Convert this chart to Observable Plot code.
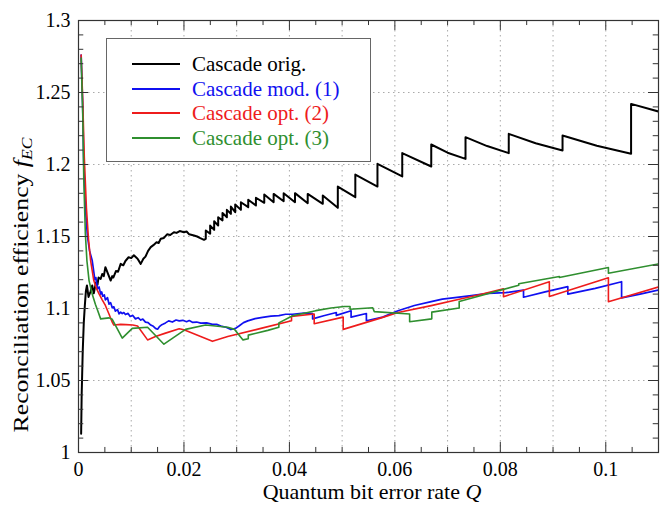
<!DOCTYPE html>
<html>
<head>
<meta charset="utf-8">
<script src="https://cdn.jsdelivr.net/npm/d3@7"></script>
<script src="https://cdn.jsdelivr.net/npm/@observablehq/plot@0.6"></script>
<style>
  html, body { margin: 0; padding: 0; background: #fff; }
  #chart { width: 671px; height: 505px; }
  #chart svg text, #chart svg tspan { font-family: "Liberation Serif", "Times New Roman", serif !important; }
</style>
</head>
<body>
<div id="chart"></div>
<script>
// ---------- data ----------
const seriesNames = ["Cascade orig.", "Cascade mod. (1)", "Cascade opt. (2)", "Cascade opt. (3)"];
const seriesColors = ["#000000", "#1010f0", "#ee1c1c", "#2f8f2f"];

const xTicks = [0, 0.02, 0.04, 0.06, 0.08, 0.1];
const xTickLabels = ["0", "0.02", "0.04", "0.06", "0.08", "0.1"];
const yTicks = [1, 1.05, 1.1, 1.15, 1.2, 1.25, 1.3];
const yTickLabels = ["1", "1.05", "1.1", "1.15", "1.2", "1.25", "1.3"];
const xGridLines = [0.01, 0.02, 0.03, 0.04, 0.05, 0.06, 0.07, 0.08, 0.09, 0.1];
const yGridLines = [1.05, 1.1, 1.15, 1.2, 1.25];

// Cascade orig. [Q, f_EC]
const cascadeOrig = [
  [0.0005,1.013],[0.0006,1.040],[0.0008,1.070],[0.0010,1.090],[0.0012,1.102],[0.0014,1.112],
  [0.0016,1.116],[0.0019,1.108],[0.0023,1.112],[0.0026,1.116],[0.0029,1.1105],[0.0033,1.118],
  [0.0036,1.1165],[0.0038,1.1215],[0.0042,1.1205],[0.0045,1.124],[0.0048,1.1225],[0.0051,1.1287],
  [0.0056,1.124],[0.0061,1.1194],[0.0064,1.1225],[0.0066,1.1215],[0.0071,1.126],[0.0075,1.1255],
  [0.0080,1.131],[0.0085,1.1300],[0.0089,1.133],[0.0095,1.1356],[0.0100,1.1350],[0.0105,1.137],
  [0.0112,1.1345],[0.0118,1.131],[0.0123,1.1345],[0.0127,1.136],[0.0132,1.1400],[0.0137,1.1426],
  [0.0142,1.1440],[0.0148,1.146],[0.0152,1.1455],[0.0156,1.1484],[0.0162,1.1490],[0.0168,1.1515],
  [0.0174,1.1510],[0.0181,1.153],[0.0186,1.1525],[0.0192,1.1538],[0.0200,1.1530],[0.0205,1.1535],
  [0.0210,1.1515],[0.0219,1.1507],[0.0225,1.1500],[0.0230,1.1490],[0.0238,1.1477],
  [0.02414,1.1484],[0.02414,1.1542],[0.02497,1.1519],[0.02497,1.1576],[0.02573,1.1546],[0.02573,1.1606],
  [0.02649,1.1576],[0.02649,1.1634],[0.02731,1.1611],[0.02731,1.1664],[0.02814,1.1634],[0.02814,1.1685],
  [0.0289,1.1657],[0.0289,1.1708],[0.02972,1.1669],[0.02972,1.1722],[0.0308,1.1685],[0.0308,1.1738],
  [0.03219,1.1704],[0.03219,1.1755],[0.03365,1.1715],[0.03365,1.1769],[0.03523,1.1734],[0.03523,1.1792],
  [0.03701,1.1738],[0.03701,1.1796],[0.03891,1.1745],[0.03891,1.1801],[0.04106,1.1738],[0.04106,1.1801],
  [0.04347,1.1731],[0.04347,1.1796],[0.04633,1.1727],[0.04633,1.1785],[0.04918,1.1699],[0.04918,1.1847],
  [0.0525,1.1773],[0.0525,1.1930],[0.0567,1.1847],[0.0567,1.2005],[0.0614,1.1917],[0.0614,1.2079],
  [0.0669,1.1986],[0.0669,1.2139],[0.0700,1.2082],[0.0734,1.2039],[0.0734,1.2190],[0.0775,1.2128],
  [0.0816,1.2079],[0.0816,1.2213],[0.0867,1.2148],[0.0918,1.2097],[0.0918,1.2201],[0.0983,1.2130],
  [0.1048,1.2074],[0.1048,1.2421],[0.1105,1.2363]
];

// Cascade mod. (1)
const cascadeMod1 = [
  [0.0005,1.276],[0.0008,1.240],[0.0010,1.200],[0.0013,1.170],[0.0017,1.150],[0.0021,1.140],
  [0.0026,1.1333],[0.0028,1.1280],[0.0031,1.1200],[0.0033,1.1215],[0.0036,1.1135],[0.0039,1.1150],
  [0.0042,1.1100],[0.0044,1.1115],[0.0046,1.1085],[0.0049,1.1095],[0.0051,1.1060],[0.0055,1.1075],
  [0.0058,1.1030],[0.0061,1.1040],[0.0064,1.1005],[0.0067,1.1012],[0.0070,1.0982],[0.0074,1.0992],
  [0.0077,1.0963],[0.0080,1.0975],[0.0083,1.0965],[0.0086,1.0972],[0.0089,1.0958],[0.0094,1.0966],
  [0.0098,1.0945],[0.0103,1.0952],[0.0108,1.0928],[0.0113,1.0936],[0.0118,1.0920],[0.0122,1.0926],
  [0.0127,1.0905],[0.0132,1.0902],[0.0137,1.0885],[0.0142,1.0876],[0.0146,1.0862],[0.0150,1.0856],
  [0.0154,1.0876],[0.0157,1.0885],[0.0161,1.0892],[0.0165,1.0900],[0.0171,1.0914],[0.0178,1.0906],
  [0.0185,1.0920],[0.0191,1.0914],[0.0198,1.0918],[0.0205,1.0908],[0.0210,1.0916],[0.0216,1.0904],
  [0.0224,1.0906],[0.0232,1.0898],[0.0243,1.0900],[0.0254,1.0890],[0.0262,1.0890],[0.0270,1.0878],
  [0.0280,1.0870],[0.0289,1.0854],[0.0298,1.0862],[0.0305,1.0880],[0.0313,1.0902],[0.0321,1.0914],
  [0.0335,1.0930],[0.0349,1.0938],[0.0365,1.0947],[0.0380,1.0950],[0.0393,1.0960],[0.0406,1.0960],
  [0.0428,1.0968],[0.0444,1.0965],[0.0444,1.0928],[0.0465,1.0950],[0.0489,1.0972],[0.0489,1.0952],
  [0.0517,1.0984],[0.0517,1.0940],[0.0546,1.0965],[0.0546,1.0915],[0.0577,1.0940],[0.0606,1.0984],
  [0.0637,1.1021],[0.0669,1.1048],[0.0690,1.1065],[0.0714,1.1076],[0.0745,1.1090],[0.0777,1.1105],
  [0.0810,1.1110],[0.0844,1.1128],[0.0844,1.1078],[0.0885,1.1115],[0.0928,1.1152],[0.0928,1.1100],
  [0.0980,1.1140],[0.1030,1.1186],[0.1030,1.1074],[0.1065,1.1100],[0.1103,1.1130]
];

// Cascade opt. (2)
const cascadeOpt2 = [
  [0.0005,1.276],[0.0008,1.245],[0.0011,1.205],[0.0015,1.170],[0.0019,1.148],[0.0023,1.1333],
  [0.0029,1.1194],[0.0034,1.1140],[0.0039,1.1102],[0.0045,1.1060],[0.0051,1.1021],[0.0058,1.0960],
  [0.0064,1.0905],[0.0067,1.0885],[0.0080,1.0890],[0.0090,1.0888],[0.0103,1.0885],[0.0112,1.0878],
  [0.0131,1.0782],[0.0146,1.0805],[0.0165,1.0829],[0.0191,1.0859],[0.0200,1.0852],[0.0254,1.0772],
  [0.0283,1.0805],[0.0346,1.0862],[0.0404,1.0915],[0.0404,1.0945],[0.0447,1.0962],[0.0447,1.0894],
  [0.0502,1.0940],[0.0502,1.0855],[0.0574,1.0935],[0.0606,1.0972],[0.0669,1.1020],[0.0720,1.1062],
  [0.0760,1.1095],[0.0806,1.1137],[0.0806,1.1082],[0.0893,1.1185],[0.0893,1.1083],[0.1005,1.1213],
  [0.1005,1.1047],[0.1103,1.1153]
];

// Cascade opt. (3)
const cascadeOpt3 = [
  [0.0005,1.274],[0.0008,1.235],[0.0010,1.190],[0.0013,1.152],[0.0016,1.133],[0.0020,1.1194],
  [0.0026,1.1100],[0.0032,1.1030],[0.0036,1.0990],[0.0042,1.0928],[0.0058,1.0935],[0.0064,1.0925],
  [0.0083,1.0794],[0.0102,1.0862],[0.0131,1.0870],[0.0162,1.0752],[0.0203,1.0855],[0.0241,1.0885],
  [0.0283,1.0870],[0.0296,1.0855],[0.0312,1.0782],[0.0322,1.0790],[0.0322,1.0815],[0.0359,1.0848],
  [0.0380,1.0870],[0.0380,1.0900],[0.0406,1.0950],[0.0450,1.0985],[0.0479,1.1003],[0.0504,1.1014],
  [0.0515,1.1014],[0.0515,1.0995],[0.0558,1.1005],[0.0561,1.0978],[0.0628,1.0962],[0.0628,1.0908],
  [0.0670,1.0928],[0.0670,1.0975],[0.0722,1.1003],[0.0722,1.1048],[0.0835,1.1162],[0.0835,1.1172],
  [0.0912,1.1222],[0.0912,1.1215],[0.1005,1.1285],[0.1005,1.1245],[0.1103,1.1312]
];

const allSeries = [cascadeOrig, cascadeMod1, cascadeOpt2, cascadeOpt3];
const seriesWidths = [2, 1.7, 1.6, 1.6];

// ---------- chart ----------
const font = "Liberation Serif, Times New Roman, serif";
const xMinor = d3.range(0, 0.1101, 0.005).filter(v => !xTicks.some(t => Math.abs(t - v) < 1e-9));
const yMinor = d3.range(1, 1.3001, 0.01).filter(v => !yTicks.some(t => Math.abs(t - v) < 1e-9));

const lineMarks = allSeries.map((s, i) =>
  Plot.line(s, {x: d => d[0], y: d => d[1], stroke: seriesColors[i], strokeWidth: seriesWidths[i], clip: true})
);

const chart = Plot.plot({
  width: 671,
  height: 505,
  marginLeft: 78,
  marginRight: 13,
  marginTop: 20,
  marginBottom: 53,
  style: {fontFamily: font, fontSize: "19px", background: "#fff", color: "#000"},
  x: {domain: [0, 0.11]},
  y: {domain: [1, 1.3]},
  marks: [
    Plot.ruleX(xGridLines, {x: d => d, stroke: "#aaa", strokeDasharray: "1.5,3.5", strokeWidth: 1}),
    Plot.ruleY(yGridLines, {y: d => d, stroke: "#aaa", strokeDasharray: "1.5,3.5", strokeWidth: 1}),
    ...lineMarks,
    // inward ticks, all four sides
    Plot.ruleX(xMinor, {x: d => d, y1: 1, y2: 1.0035, stroke: "#333"}),
    Plot.ruleX(xTicks, {x: d => d, y1: 1, y2: 1.007, stroke: "#333"}),
    Plot.ruleX(xMinor, {x: d => d, y1: 1.3, y2: 1.2965, stroke: "#333"}),
    Plot.ruleX(xTicks, {x: d => d, y1: 1.3, y2: 1.293, stroke: "#333"}),
    Plot.ruleY(yMinor, {y: d => d, x1: 0, x2: 0.001, stroke: "#333"}),
    Plot.ruleY(yTicks, {y: d => d, x1: 0, x2: 0.0019, stroke: "#333"}),
    Plot.ruleY(yMinor, {y: d => d, x1: 0.11, x2: 0.109, stroke: "#333"}),
    Plot.ruleY(yTicks, {y: d => d, x1: 0.11, x2: 0.1081, stroke: "#333"}),
    Plot.frame({stroke: "#333", strokeWidth: 1.2}),
    Plot.axisX(xTicks, {tickSize: 0, tickPadding: 9, label: null, fontSize: 20,
      tickFormat: d => xTickLabels[xTicks.indexOf(d)]}),
    Plot.axisY(yTicks, {tickSize: 0, tickPadding: 8, label: null, fontSize: 20,
      tickFormat: d => yTickLabels[yTicks.indexOf(d)]})
  ]
});

document.getElementById("chart").appendChild(chart);

// ---------- axis titles and legend ----------
const svg = d3.select(chart);

const xl = svg.append("text")
  .attr("x", 372).attr("y", 499)
  .attr("text-anchor", "middle")
  .attr("font-size", 22).attr("fill", "#000");
xl.append("tspan").text("Quantum bit error rate ");
xl.append("tspan").attr("font-style", "italic").text("Q");

const yl = svg.append("text")
  .attr("transform", "translate(28,285) rotate(-90) scale(1.17,1)")
  .attr("text-anchor", "middle")
  .attr("font-size", 22).attr("fill", "#000");
yl.append("tspan").text("Reconciliation efficiency ");
yl.append("tspan").attr("font-style", "italic").text("f");
yl.append("tspan").attr("font-style", "italic").attr("font-size", 15).attr("dy", 4).text("EC");

const lg = svg.append("g");
lg.append("rect")
  .attr("x", 106.5).attr("y", 38.5).attr("width", 264).attr("height", 123)
  .attr("fill", "#fff").attr("stroke", "#666").attr("stroke-width", 1);
const rowY = [64, 89, 113, 138];
seriesNames.forEach((name, i) => {
  lg.append("line")
    .attr("x1", 132).attr("x2", 180).attr("y1", rowY[i]).attr("y2", rowY[i])
    .attr("stroke", seriesColors[i]).attr("stroke-width", 2);
  lg.append("text")
    .attr("x", 192).attr("y", rowY[i] + 6.5)
    .attr("text-anchor", "start")
    .attr("font-size", 21).attr("fill", seriesColors[i])
    .text(name);
});
</script>
</body>
</html>
